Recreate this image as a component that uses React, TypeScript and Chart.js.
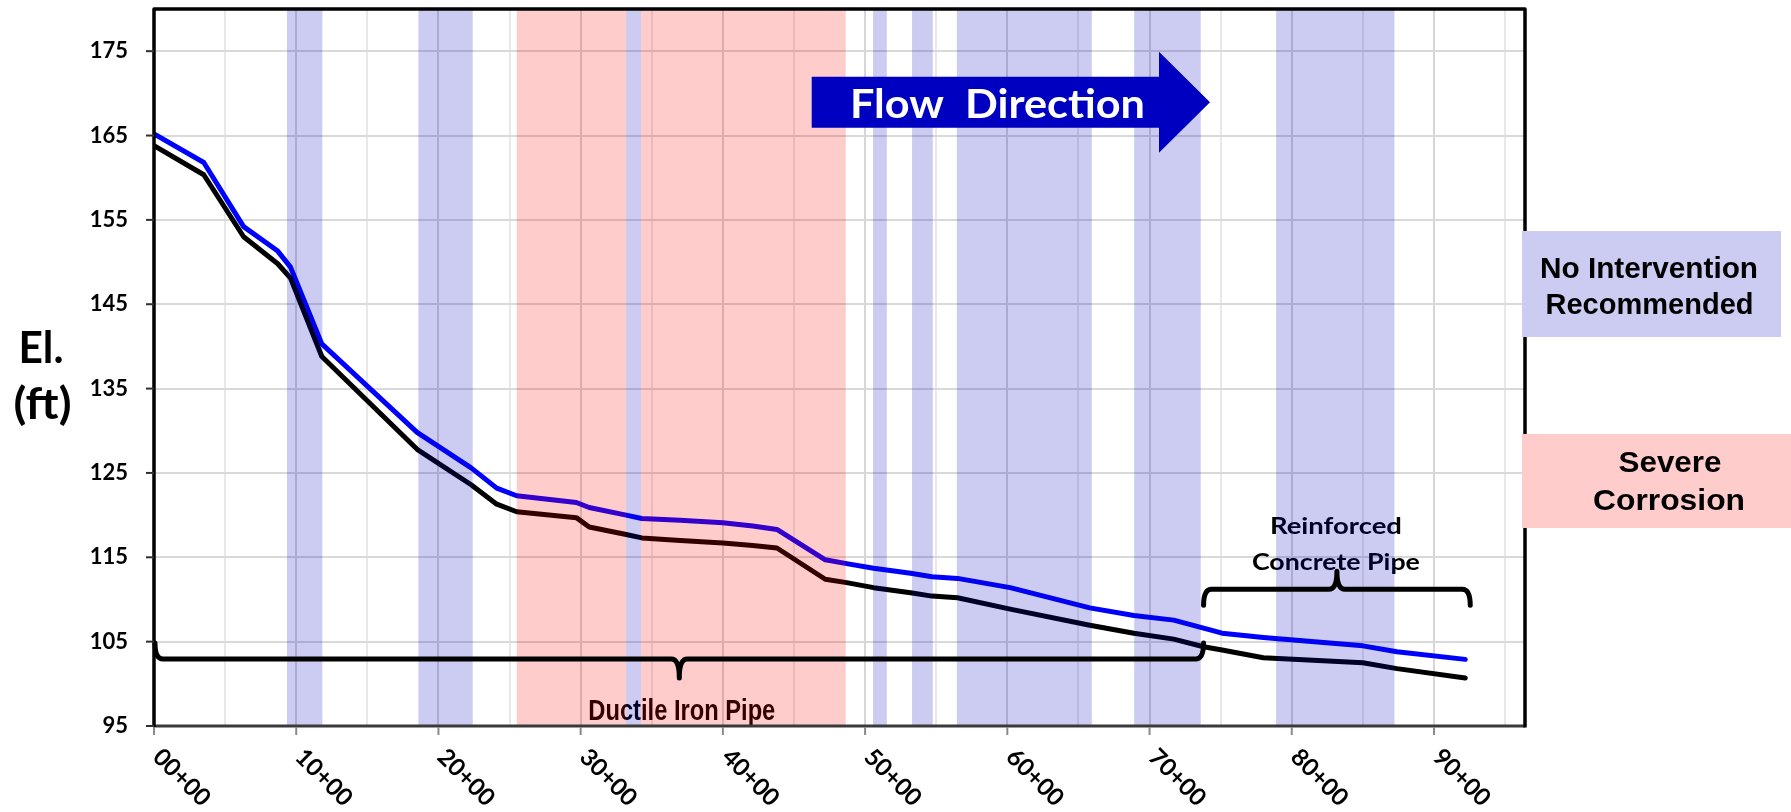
import React, { useEffect, useRef } from 'react';
import { Chart, registerables } from 'chart.js';

Chart.register(...registerables);

// ---- data ----
const stations = [0, 3.5, 6.3, 8.7, 9.6, 11.8, 18.5, 22.3, 24.1, 25.5, 29.7, 30.6, 33.2, 34.3, 37.0, 40.0, 42.1, 43.8, 47.2, 48.7, 50.6, 53.2, 54.7, 56.5, 60.2, 65.8, 68.9, 71.7, 73.8, 75.1, 78.0, 85.0, 87.4, 92.2];
const hglElev = [165.2, 161.8, 154.2, 151.3, 149.4, 140.3, 129.8, 125.6, 123.2, 122.3, 121.5, 120.9, 120.0, 119.6, 119.4, 119.1, 118.7, 118.3, 114.7, 114.25, 113.7, 113.1, 112.7, 112.5, 111.4, 109.0, 108.1, 107.55, 106.6, 106.0, 105.5, 104.5, 103.8, 102.9];
const pipeElev = [163.8, 160.35, 153.0, 149.8, 148.1, 138.8, 127.8, 123.6, 121.3, 120.4, 119.7, 118.6, 117.7, 117.3, 117.0, 116.7, 116.4, 116.1, 112.4, 112.0, 111.4, 110.8, 110.4, 110.2, 108.85, 106.95, 106.0, 105.3, 104.4, 104.0, 103.1, 102.5, 101.8, 100.7];

const noInterventionFrom = [9.35, 18.59, 33.19, 50.56, 53.3, 56.45, 68.92, 78.9];
const noInterventionTo = [11.84, 22.41, 34.25, 51.53, 54.76, 65.94, 73.6, 87.22];
const severeFrom = [25.51, 34.25];
const severeTo = [33.19, 48.64];

const yTicks = [95, 105, 115, 125, 135, 145, 155, 165, 175];
const xGridStations = [0, 5, 10, 15, 20, 25, 30, 35, 40, 45, 50, 55, 60, 65, 70, 75, 80, 85, 90, 95];
const xLabelStations = [0, 10, 20, 30, 40, 50, 60, 70, 80, 90];
const xLabels = ['00+00', '10+00', '20+00', '30+00', '40+00', '50+00', '60+00', '70+00', '80+00', '90+00'];

// pipe material segments (stations) and bracket elevations
const ductileFrom = 0;
const ductileTo = 73.8;
const ductileElev = 102.95;
const rcpFrom = 73.8;
const rcpTo = 92.55;
const rcpElev = 111.2;

const BLUE_BAND = 'rgba(0,0,190,0.2)';
const PINK_BAND = 'rgba(255,0,0,0.2)';
const LAVENDER = 'rgb(204,204,242)';
const PINK = 'rgb(255,204,204)';

function drawFit(ctx: CanvasRenderingContext2D, text: string, cx: number, baseline: number, targetW: number, font: string, align: 'center' | 'left' = 'center') {
  ctx.save();
  ctx.font = font;
  const w = ctx.measureText(text).width;
  const sx = targetW / w;
  ctx.translate(cx, baseline);
  ctx.scale(sx, 1);
  ctx.textAlign = align;
  ctx.textBaseline = 'alphabetic';
  ctx.fillText(text, 0, 0);
  ctx.restore();
}

function bracket(ctx: CanvasRenderingContext2D, x1: number, x2: number, yLine: number, endDy: number, tipDy: number) {
  const r = 8;
  const mid = (x1 + x2) / 2;
  ctx.beginPath();
  ctx.moveTo(x1, yLine + endDy);
  ctx.quadraticCurveTo(x1, yLine, x1 + r, yLine);
  ctx.lineTo(mid - r, yLine);
  ctx.quadraticCurveTo(mid, yLine, mid, yLine + tipDy);
  ctx.quadraticCurveTo(mid, yLine, mid + r, yLine);
  ctx.lineTo(x2 - r, yLine);
  ctx.quadraticCurveTo(x2, yLine, x2, yLine + endDy);
  ctx.stroke();
}

const overlayPlugin = {
  id: 'overlay',
  afterDatasetsDraw(chart: any) {
    const { ctx, chartArea: ca, scales } = chart;
    const x = scales.x;
    const y = scales.y;
    ctx.save();
    // labels (drawn under the translucent bands)
    ctx.fillStyle = '#000';
    const dMid = x.getPixelForValue((ductileFrom + ductileTo) / 2);
    const dY = y.getPixelForValue(ductileElev);
    drawFit(ctx, 'Ductile Iron Pipe', dMid + 3, dY + 61, 187, 'bold 29px "Liberation Sans Narrow", "Arial Narrow", "Liberation Sans", sans-serif');
    const rMid = x.getPixelForValue((rcpFrom + rcpTo) / 2);
    const rY = y.getPixelForValue(rcpElev);
    drawFit(ctx, 'Reinforced', rMid - 1, rY - 55, 132, 'bold 22px Lato, sans-serif');
    drawFit(ctx, 'Concrete Pipe', rMid - 1, rY - 19.5, 168, 'bold 22px Lato, sans-serif');

    // bands
    ctx.beginPath();
    ctx.rect(ca.left, ca.top, ca.right - ca.left, ca.bottom - ca.top);
    ctx.clip();
    ctx.fillStyle = BLUE_BAND;
    noInterventionFrom.forEach((a, i) => {
      const x1 = x.getPixelForValue(a);
      const x2 = x.getPixelForValue(noInterventionTo[i]);
      ctx.fillRect(x1, ca.top, x2 - x1, ca.bottom - ca.top);
    });
    ctx.fillStyle = PINK_BAND;
    severeFrom.forEach((a, i) => {
      const x1 = x.getPixelForValue(a);
      const x2 = x.getPixelForValue(severeTo[i]);
      ctx.fillRect(x1, ca.top, x2 - x1, ca.bottom - ca.top);
    });
    ctx.restore();
  },
  afterDraw(chart: any) {
    const { ctx, chartArea: ca, scales } = chart;
    const x = scales.x;
    const y = scales.y;
    ctx.save();

    // brackets
    ctx.strokeStyle = '#000';
    ctx.lineWidth = 5;
    ctx.lineCap = 'round';
    ctx.lineJoin = 'round';
    const dY = y.getPixelForValue(ductileElev);
    bracket(ctx, x.getPixelForValue(ductileFrom) + 1, x.getPixelForValue(ductileTo), dY, -16, 19);
    const rY = y.getPixelForValue(rcpElev);
    bracket(ctx, x.getPixelForValue(rcpFrom), x.getPixelForValue(rcpTo), rY, 16, -18);

    // flow arrow
    ctx.fillStyle = '#0000C0';
    const ax = 811.7, ay = 102.3;
    ctx.beginPath();
    ctx.moveTo(ax, ay - 25.5);
    ctx.lineTo(1159, ay - 25.5);
    ctx.lineTo(1159, ay - 50.5);
    ctx.lineTo(1210, ay);
    ctx.lineTo(1159, ay + 50.5);
    ctx.lineTo(1159, ay + 25.5);
    ctx.lineTo(ax, ay + 25.5);
    ctx.closePath();
    ctx.fill();
    ctx.fillStyle = '#fff';
    drawFit(ctx, 'Flow  Direction', 997.5, 118.3, 295, 'bold 40px Lato, sans-serif');

    // plot borders
    ctx.lineCap = 'butt';
    ctx.strokeStyle = '#3a3a3a';
    ctx.lineWidth = 3;
    ctx.beginPath();
    ctx.moveTo(ca.left, ca.bottom);
    ctx.lineTo(ca.right, ca.bottom);
    ctx.stroke();
    ctx.strokeStyle = '#000';
    ctx.lineWidth = 3.5;
    ctx.beginPath();
    ctx.moveTo(ca.left, ca.bottom + 1);
    ctx.lineTo(ca.left, ca.top);
    ctx.lineTo(ca.right, ca.top);
    ctx.lineTo(ca.right, ca.bottom + 1.5);
    ctx.stroke();

    // tick marks
    ctx.lineWidth = 2;
    ctx.strokeStyle = '#8a8a8a';
    xLabelStations.forEach((v) => {
      const px = x.getPixelForValue(v);
      ctx.beginPath();
      ctx.moveTo(px, ca.bottom + 1);
      ctx.lineTo(px, ca.bottom + 9);
      ctx.stroke();
    });
    ctx.strokeStyle = '#303030';
    yTicks.forEach((v) => {
      const py = y.getPixelForValue(v);
      ctx.beginPath();
      ctx.moveTo(ca.left - 8, py);
      ctx.lineTo(ca.left, py);
      ctx.stroke();
    });

    // x labels rotated 45deg clockwise
    ctx.fillStyle = '#000';
    ctx.font = 'bold 24px Lato, sans-serif';
    ctx.textAlign = 'left';
    ctx.textBaseline = 'middle';
    xLabelStations.forEach((v, i) => {
      const px = x.getPixelForValue(v);
      ctx.save();
      ctx.translate(px + 3, ca.bottom + 27);
      ctx.rotate(Math.PI / 4);
      ctx.fillText(xLabels[i], 0, 0);
      ctx.restore();
    });

    // y title
    drawFit(ctx, 'El.', 41, 362.7, 45, 'bold 43px Lato, sans-serif');
    drawFit(ctx, '(ft)', 42.5, 419, 58, 'bold 43px Lato, sans-serif');

    // legend boxes
    ctx.fillStyle = LAVENDER;
    ctx.fillRect(1522, 231, 259, 106);
    ctx.fillStyle = PINK;
    ctx.fillRect(1522, 434, 269, 94);
    ctx.fillStyle = '#000';
    const lf = 'bold 30px "Liberation Sans", Arial, sans-serif';
    drawFit(ctx, 'No Intervention', 1649, 278.3, 218, lf);
    drawFit(ctx, 'Recommended', 1649.5, 314, 208, lf);
    drawFit(ctx, 'Severe', 1670, 471.7, 103, lf);
    drawFit(ctx, 'Corrosion', 1669, 510, 152, lf);

    ctx.restore();
  },
};

export default function App() {
  const ref = useRef<HTMLCanvasElement>(null);
  useEffect(() => {
    const canvas = ref.current;
    if (!canvas) return;
    const chart = new Chart(canvas, {
      type: 'line',
      data: {
        datasets: [
          {
            label: 'Pipe',
            data: stations.map((s, i) => ({ x: s, y: pipeElev[i] })),
            borderColor: '#000000',
            borderWidth: 5,
            pointRadius: 0,
            tension: 0,
            borderCapStyle: 'round',
            borderJoinStyle: 'round',
          },
          {
            label: 'HGL',
            data: stations.map((s, i) => ({ x: s, y: hglElev[i] })),
            borderColor: '#0000FF',
            borderWidth: 5,
            pointRadius: 0,
            tension: 0,
            borderCapStyle: 'round',
            borderJoinStyle: 'round',
          },
        ],
      },
      options: {
        animation: false,
        responsive: false,
        devicePixelRatio: 1,
        layout: { padding: { left: 0, top: 9, right: 266, bottom: 0 } },
        plugins: { legend: { display: false }, tooltip: { enabled: false } },
        scales: {
          x: {
            type: 'linear',
            min: 0,
            max: 96.4,
            afterBuildTicks: (s: any) => {
              s.ticks = xGridStations.map((v) => ({ value: v }));
            },
            afterFit: (s: any) => {
              s.height = 86;
              s.paddingLeft = 0;
              s.paddingRight = 0;
            },
            ticks: { display: false },
            grid: {
              drawTicks: false,
              lineWidth: 2,
              color: (c: any) => (c.tick && c.tick.value % 10 === 0 ? '#d6d6d6' : '#e8e8e8'),
            },
            border: { display: false },
          },
          y: {
            type: 'linear',
            min: 95,
            max: 180,
            afterBuildTicks: (s: any) => {
              s.ticks = yTicks.map((v) => ({ value: v }));
            },
            afterFit: (s: any) => {
              s.width = 154;
              s.paddingTop = 0;
              s.paddingBottom = 0;
            },
            ticks: {
              color: '#000',
              padding: 26,
              font: { family: 'Lato', weight: 'bold', size: 22 },
              callback: (v: any) => String(v),
            },
            grid: { drawTicks: false, lineWidth: 2, color: '#d9d9d9' },
            border: { display: false },
          },
        },
      },
      plugins: [overlayPlugin],
    });
    return () => chart.destroy();
  }, []);
  return (
    <div style={{ position: 'fixed', left: 0, top: 0, width: 1791, height: 812, background: '#fff' }}>
      <canvas ref={ref} width={1791} height={812} style={{ display: 'block', width: 1791, height: 812 }} />
    </div>
  );
}
